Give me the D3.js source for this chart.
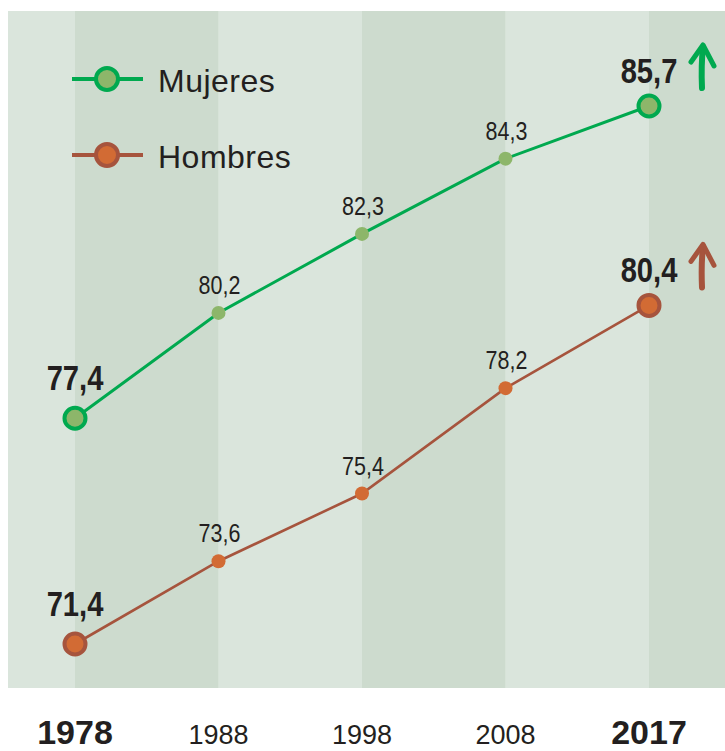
<!DOCTYPE html>
<html>
<head>
<meta charset="utf-8">
<script src="https://cdnjs.cloudflare.com/ajax/libs/d3/7.8.5/d3.min.js"></script>
<style>
  body { margin: 0; background: #fff; }
  svg { display: block; }
  .big { font-family: "Liberation Sans", Arial, sans-serif; font-weight: bold; font-size: 36px; fill: #231f20; }
  .mid { font-family: "Liberation Sans", Arial, sans-serif; font-size: 25px; fill: #231f20; }
  .year { font-family: "Liberation Sans", Arial, sans-serif; font-size: 27px; fill: #231f20; }
  .year.bold { font-weight: bold; font-size: 34px; }
  .legend { font-family: "Liberation Sans", Arial, sans-serif; font-size: 32px; fill: #231f20; letter-spacing: 0.5px; }
</style>
</head>
<body>
<script>
// data
var years = [1978, 1988, 1998, 2008, 2017];
var mujeres = [77.4, 80.2, 82.3, 84.3, 85.7];
var hombres = [71.4, 73.6, 75.4, 78.2, 80.4];

var width = 725, height = 751;

var svg = d3.select("body").append("svg")
  .attr("width", width)
  .attr("height", height);

var x = d3.scalePoint()
  .domain(years)
  .range([75, 649]);

var y = d3.scaleLinear()
  .domain([71.4, 85.7])
  .range([644, 106]);

var plotTop = 11, plotBottom = 688, plotLeft = 8;

function fmt(v) { return v.toFixed(1).replace(".", ","); }

// background stripes
svg.append("rect")
  .attr("x", plotLeft)
  .attr("y", plotTop)
  .attr("width", width - plotLeft)
  .attr("height", plotBottom - plotTop)
  .attr("fill", "#dae5dc");

svg.selectAll(".stripe")
  .data(years)
  .enter()
    .append("rect")
    .attr("class", "stripe")
    .attr("x", function(d) { return x(d); })
    .attr("y", plotTop)
    .attr("width", function(d, i) {
      var next = i < years.length - 1 ? x(years[i + 1]) : width;
      return next - x(d);
    })
    .attr("height", plotBottom - plotTop)
    .attr("fill", function(d, i) { return i % 2 == 0 ? "#cddbce" : "#dae5dc"; });

var series = [
  { name: "Mujeres", values: mujeres, line: "#00a94f", lw: 3, fill: "#8db66a", legendY: 79 },
  { name: "Hombres", values: hombres, line: "#a6543d", lw: 2.6, fill: "#d26b34", legendY: 155 }
];

var line = d3.line()
  .x(function(d, i) { return x(years[i]); })
  .y(function(d) { return y(d); });

series.forEach(function(s) {
  var g = svg.append("g");

  g.append("path")
    .attr("d", line(s.values))
    .attr("fill", "none")
    .attr("stroke", s.line)
    .attr("stroke-width", s.lw);

  // middle points
  g.selectAll(".pt")
    .data(s.values.slice(1, -1))
    .enter()
      .append("circle")
      .attr("class", "pt")
      .attr("cx", function(d, i) { return x(years[i + 1]); })
      .attr("cy", function(d) { return y(d); })
      .attr("r", 7)
      .attr("fill", s.fill);

  // condensed look: squeeze the glyphs horizontally
  g.selectAll(".mid")
    .data(s.values.slice(1, -1))
    .enter()
      .append("text")
      .attr("class", "mid")
      .attr("transform", function(d, i) {
        return "translate(" + (x(years[i + 1]) + 1) + "," + (y(d) - 19) + ") scale(0.86,1)";
      })
      .attr("text-anchor", "middle")
      .text(fmt);

  // end points
  var ends = [0, s.values.length - 1];
  g.selectAll(".end")
    .data(ends)
    .enter()
      .append("circle")
      .attr("class", "end")
      .attr("cx", function(i) { return x(years[i]); })
      .attr("cy", function(i) { return y(s.values[i]); })
      .attr("r", 10.5)
      .attr("fill", s.fill)
      .attr("stroke", s.line)
      .attr("stroke-width", 4);

  g.selectAll(".big")
    .data(ends)
    .enter()
      .append("text")
      .attr("class", "big")
      .attr("transform", function(i) {
        return "translate(" + x(years[i]) + "," + (y(s.values[i]) - (i == 0 ? 28 : 23)) + ") scale(0.81,1)";
      })
      .attr("text-anchor", "middle")
      .text(function(i) { return fmt(s.values[i]); });

  // brush-like up arrow next to last value
  var ax = x(years[years.length - 1]) + 54;
  var ay = y(s.values[s.values.length - 1]) - 61;
  g.append("path")
    .attr("d", "M" + (ax - 1) + "," + (ay + 43) + " Q" + (ax - 2) + "," + (ay + 20) + " " + ax + "," + (ay + 2))
    .attr("fill", "none")
    .attr("stroke", s.line)
    .attr("stroke-width", 6)
    .attr("stroke-linecap", "round");
  g.append("path")
    .attr("d", "M" + (ax - 12) + "," + (ay + 17) + " L" + ax + "," + ay + " L" + (ax + 11) + "," + (ay + 21))
    .attr("fill", "none")
    .attr("stroke", s.line)
    .attr("stroke-width", 5)
    .attr("stroke-linecap", "round")
    .attr("stroke-linejoin", "round");

  // legend
  var lg = svg.append("g");
  lg.append("line")
    .attr("x1", 72).attr("x2", 143)
    .attr("y1", s.legendY).attr("y2", s.legendY)
    .attr("stroke", s.line)
    .attr("stroke-width", 4);
  lg.append("circle")
    .attr("cx", 107).attr("cy", s.legendY)
    .attr("r", 11)
    .attr("fill", s.fill)
    .attr("stroke", s.line)
    .attr("stroke-width", 4);
  lg.append("text")
    .attr("class", "legend")
    .attr("x", 158)
    .attr("y", s.legendY + 13)
    .text(s.name);
});

// year labels
svg.selectAll(".year")
  .data(years)
  .enter()
    .append("text")
    .attr("class", function(d, i) { return (i == 0 || i == years.length - 1) ? "year bold" : "year"; })
    .attr("x", function(d) { return x(d); })
    .attr("y", 744)
    .attr("text-anchor", "middle")
    .text(function(d) { return d; });
</script>
</body>
</html>
